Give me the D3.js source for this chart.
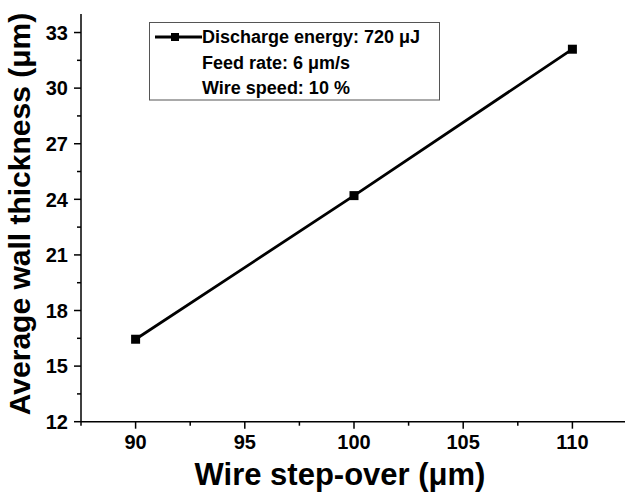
<!DOCTYPE html>
<html>
<head>
<meta charset="utf-8">
<script src="https://cdn.jsdelivr.net/npm/d3@7"></script>
<style>
  body { margin: 0; background: #fff; }
  text { font-family: Arial, "Liberation Sans", sans-serif; font-weight: bold; fill: #000; }
</style>
</head>
<body>
<div id="chart"></div>
<script>
// Data
let stepOver = [90, 100, 110];
let thickness = [16.45, 24.2, 32.1];
let xTicks = [90, 95, 100, 105, 110];
let yTicks = [12, 15, 18, 21, 24, 27, 30, 33];
let legendLines = ["Discharge energy: 720 \u03bcJ", "Feed rate: 6 \u03bcm/s", "Wire speed: 10 %"];

let W = 625, H = 494;

let svg = d3.select("#chart").append("svg")
    .attr("width", W)
    .attr("height", H);

let x = d3.scaleLinear().domain([87.5, 112.5]).range([81, 627]);
let y = d3.scaleLinear().domain([12, 34]).range([421.7, 14]);

// minor ticks
let xMinor = d3.range(87.5, 112.6, 2.5).filter(v => xTicks.indexOf(v) < 0);
let yMinor = d3.range(13.5, 34, 3);

// X axis
let gx = svg.append("g").attr("transform", "translate(0," + y(12) + ")");
gx.append("line").attr("x1", x(87.5)).attr("x2", x(112.5))
    .attr("stroke", "#000").attr("stroke-width", 1.5);
gx.selectAll(".xmaj").data(xTicks).enter().append("line")
    .attr("x1", d => x(d)).attr("x2", d => x(d))
    .attr("y1", 0).attr("y2", 7)
    .attr("stroke", "#000").attr("stroke-width", 1.5);
gx.selectAll(".xmin").data(xMinor).enter().append("line")
    .attr("x1", d => x(d)).attr("x2", d => x(d))
    .attr("y1", 0).attr("y2", 4)
    .attr("stroke", "#000").attr("stroke-width", 1.5);
gx.selectAll(".xlab").data(xTicks).enter().append("text")
    .attr("x", d => x(d)).attr("y", 27)
    .attr("text-anchor", "middle")
    .style("font-size", "20px")
    .text(d => d);

// Y axis
let gy = svg.append("g").attr("transform", "translate(" + x(87.5) + ",0)");
gy.append("line").attr("y1", y(12)).attr("y2", y(34))
    .attr("stroke", "#000").attr("stroke-width", 1.5);
gy.selectAll(".ymaj").data(yTicks).enter().append("line")
    .attr("y1", d => y(d)).attr("y2", d => y(d))
    .attr("x1", 0).attr("x2", -7)
    .attr("stroke", "#000").attr("stroke-width", 1.5);
gy.selectAll(".ymin").data(yMinor).enter().append("line")
    .attr("y1", d => y(d)).attr("y2", d => y(d))
    .attr("x1", 0).attr("x2", -4)
    .attr("stroke", "#000").attr("stroke-width", 1.5);
gy.selectAll(".ylab").data(yTicks).enter().append("text")
    .attr("x", -13).attr("y", d => y(d))
    .attr("dy", "0.36em")
    .attr("text-anchor", "end")
    .style("font-size", "20px")
    .text(d => d);

// Axis titles
svg.append("text")
    .attr("x", 340).attr("y", 485)
    .attr("text-anchor", "middle")
    .style("font-size", "31px")
    .text("Wire step-over (\u03bcm)");

svg.append("text")
    .attr("transform", "translate(30,214) rotate(-90)")
    .attr("text-anchor", "middle")
    .style("font-size", "30px")
    .text("Average wall thickness (\u03bcm)");

// Series
let pts = stepOver.map((d, i) => [d, thickness[i]]);
svg.append("path")
    .datum(pts)
    .attr("fill", "none")
    .attr("stroke", "#000")
    .attr("stroke-width", 2.8)
    .attr("d", d3.line().x(d => x(d[0])).y(d => y(d[1])));

svg.selectAll(".pt").data(pts).enter().append("rect")
    .attr("x", d => x(d[0]) - 4.5)
    .attr("y", d => y(d[1]) - 4.5)
    .attr("width", 9).attr("height", 9)
    .attr("fill", "#000");

// Legend
let lg = svg.append("g");
lg.append("rect")
    .attr("x", 149.5).attr("y", 22.5)
    .attr("width", 290).attr("height", 77.5)
    .attr("fill", "#fff")
    .attr("stroke", "#555").attr("stroke-width", 1);
lg.append("line").attr("x1", 155).attr("x2", 202).attr("y1", 37).attr("y2", 37)
    .attr("stroke", "#000").attr("stroke-width", 2.8);
lg.append("rect").attr("x", 171).attr("y", 33).attr("width", 8).attr("height", 8).attr("fill", "#000");
lg.selectAll(".lt").data(legendLines).enter().append("text")
    .attr("x", 202)
    .attr("y", (d, i) => 43 + i * 25.5)
    .style("font-size", "18px")
    .text(d => d);
</script>
</body>
</html>
